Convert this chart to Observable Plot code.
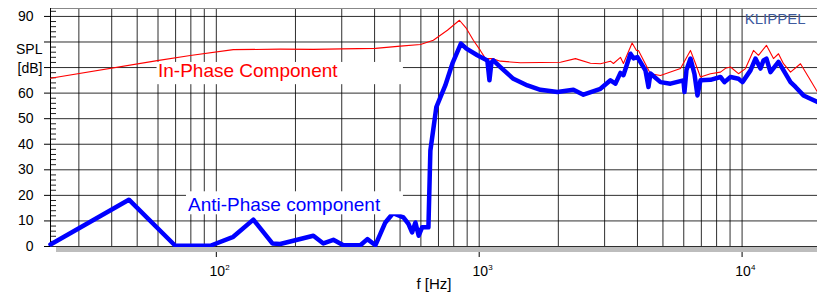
<!DOCTYPE html>
<html><head><meta charset="utf-8">
<script src="https://cdn.jsdelivr.net/npm/d3@7"></script>
<script src="https://cdn.jsdelivr.net/npm/@observablehq/plot@0.6"></script>
<style>
html,body{margin:0;padding:0;background:#fff;}
</style></head><body><div id="chart"></div>
<script>
// In-phase component (red, thin)
const inPhaseFreq = [23.4,59.6,79.6,116,175,234,300,403,501,598,669,757,841,894,950,1010,1057,1122,1204,1314,1435,1709,2037,2323,2650,2892,3022,3157,3241,3446,3537,3817,3965,4035,4482,4893,5830,6363,6648,6945,7583,8275,8646,9036,9690,10302,11050,11545,12380,13163,13757,14372,15284,16680,17889,19360];
const inPhaseDb   = [65.8,72.7,74.7,77,77.2,77.1,77.3,77.5,78.4,79,80.7,84.6,88.5,85.3,80.7,76.7,73.5,73.5,72.5,72.2,71.9,72,72.1,73.5,71.7,71.5,72,72.5,71.6,74,71.6,79.6,76.7,76.7,67.6,66.9,69.6,76.7,71.6,66.3,67.6,68.2,69.7,70.2,67.6,69.6,76.7,74.8,78.7,73.5,75.4,71.5,68.2,71.5,66.3,60.4];

// Anti-phase component (blue, thick)
const antiFreq = [23.4,46.5,69.8,94.9,116,138.3,163.4,175,234,255.4,278.7,304.3,353.2,375.5,403,439.6,470,514.7,537.8,555.5,571.9,588.6,606.4,624,641,652,687,743,791,852,894,984,1074,1094,1113,1132,1204,1349,1526,1709,1984,2283,2491,2892,3157,3298,3446,3537,3762,3862,3999,4289,4405,4482,4893,5340,5984,6037,6143,6363,6590,6766,6945,7583,8275,8570,9036,9690,10035,10765,11246,11749,12059,12380,12823,13757,14627,15284,15971,17122,18205,19360];
const antiDb   = [0.8,18.3,0.3,0.3,3.8,10.5,1.2,1,4.2,1.2,2.6,0.5,0.5,2.9,0.5,9.4,13,11.4,8.9,5.5,9.4,4.2,7.5,7.5,7.5,37.5,54.5,63,71.6,79.4,77.4,74.8,72.8,65,72,72.8,70.2,65.6,63,61.3,60.4,61.3,59.4,61.7,65,63.7,67.9,67,75.4,73.6,74.1,68.9,62.4,67.7,64.3,63.7,65,60.4,69,73.5,67.5,59.1,65,65.2,66.3,64.3,66.3,65.6,64.3,68.9,73.5,69.6,72.8,73.5,68.2,72.2,67.6,64.3,62.4,59.1,57.8,56.5];

const yTicks = [0,10,20,30,40,50,60,70,80,90];
const yTickLabels = ["0","10","20","30","40","50","60","","","90"];
const yMinor = [2,4,6,8,12,14,16,18,22,24,26,28,32,34,36,38,42,44,46,48,52,54,56,58,62,64,66,68,72,74,76,78,82,84,86,88,92];
const gridFreqs = [30,40,50,60,70,80,90,100,200,300,400,500,600,700,800,900,1000,2000,3000,4000,5000,6000,7000,8000,9000,10000];
const decades = [100,1000,10000];
const decadeExp = ["2","3","4"];

const xDomain = [23.4, 19360];
const yDomain = [0, 93.1];

// annotation anchors (data coordinates)
const labels = [
  {text: "In-Phase Component", color: "#ff0000", f: 60, db: 66.5, f1: 59.5, f2: 515, db1: 63.3, db2: 72},
  {text: "Anti-Phase component", color: "#0000ff", f: 78, db: 14.0, f1: 77, f2: 515, db1: 12.4, db2: 21.4}
];

const W = 817, H = 295, ML = 50;
const inPhase = inPhaseFreq.map((f, i) => ({f, db: inPhaseDb[i]}));
const anti = antiFreq.map((f, i) => ({f, db: antiDb[i]}));
const yLab = new Map(yTicks.map((t, i) => [t, yTickLabels[i]]));
const font = "Arial, 'Liberation Sans', Helvetica, sans-serif";

const chart = Plot.plot({
  width: W, height: H,
  marginLeft: ML, marginRight: 0, marginTop: 8, marginBottom: 49,
  style: {fontFamily: font, fontSize: "14px", background: "#fff", color: "#000"},
  x: {type: "log", domain: xDomain, axis: null},
  y: {domain: yDomain, axis: null},
  marks: [
    Plot.ruleX(gridFreqs, {stroke: "#000", strokeOpacity: 0.82, strokeWidth: 1}),
    Plot.ruleY(yTicks, {stroke: "#000", strokeOpacity: 0.82, strokeWidth: 1}),
    Plot.ruleY([yDomain[1]], {stroke: "#888"}),
    Plot.tickY(yMinor, {y: d => d, insetRight: W - ML - 6, stroke: "#222"}),
    Plot.ruleX([xDomain[0]], {stroke: "#000"}),
    Plot.line(inPhase, {x: "f", y: "db", stroke: "#ff0000", strokeWidth: 1.1}),
    Plot.line(anti, {x: "f", y: "db", stroke: "#0000ff", strokeWidth: 4.5, strokeLinejoin: "round", strokeLinecap: "round"}),
    Plot.rect(labels, {x1: "f1", x2: "f2", y1: "db1", y2: "db2", fill: "#fff"}),
    Plot.text(labels, {x: "f", y: "db", text: "text", fill: "color", fontSize: 19, textAnchor: "start", lineAnchor: "bottom"}),
    Plot.axisY({ticks: yTicks, tickSize: 6, tickPadding: 11, tickFormat: d => yLab.get(d), fontSize: 14}),
    Plot.text(["SPL", "[dB]"], {y: [77, 69.6], frameAnchor: "left", dx: -8, textAnchor: "end", fontSize: 14, fill: "#000"}),
    Plot.axisX({ticks: decades, tickSize: 11, tickFormat: () => ""}),
    Plot.ruleY([0], {dy: 3, strokeWidth: 5, stroke: "#bdbdbd", x1: xDomain[0] * Math.pow(10, 6 / 263), x2: xDomain[1]}),
    Plot.text(decades, {x: d => d, frameAnchor: "bottom", text: () => "10", dx: 1, dy: 29, lineAnchor: "bottom", fontSize: 14, fill: "#000"}),
    Plot.text(decades, {x: d => d, frameAnchor: "bottom", text: (d, i) => decadeExp[i], dx: 9, dy: 23.5, textAnchor: "start", lineAnchor: "bottom", fontSize: 8, fill: "#000"}),
    Plot.text(["f [Hz]"], {frameAnchor: "bottom", dy: 42, lineAnchor: "bottom", fontSize: 15, fill: "#000"}),
    Plot.text(["KLIPPEL"], {frameAnchor: "top-right", dx: -12, dy: 15, textAnchor: "end", lineAnchor: "bottom", fontSize: 15, fill: "#3f5b9f"})
  ]
});
document.getElementById("chart").appendChild(chart);
</script>
</body></html>
